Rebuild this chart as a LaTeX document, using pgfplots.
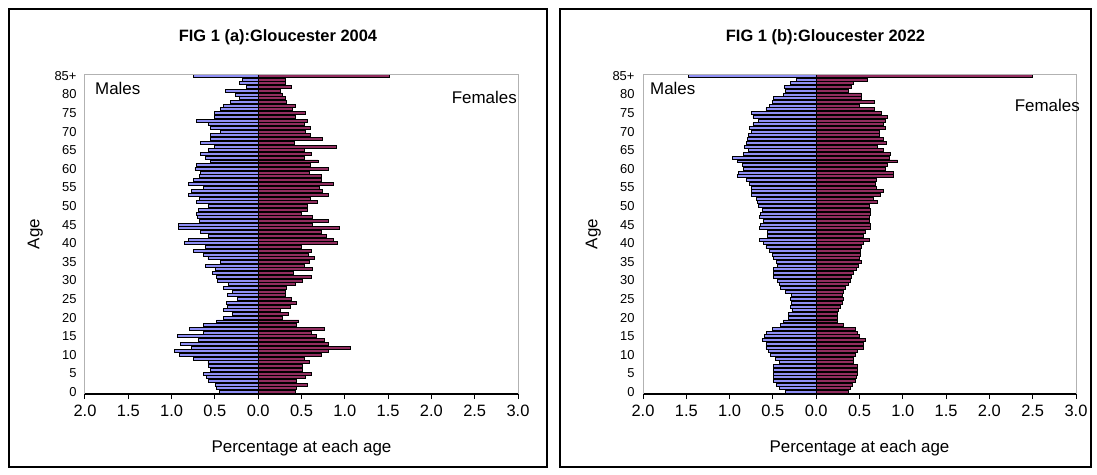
\documentclass[border=0pt]{standalone}
\usepackage{fontspec}
\setmainfont{Liberation Sans}
\usepackage{pgfplots}
\usepackage{pgfplotstable}
\pgfplotsset{compat=1.18}
\usetikzlibrary{calc}
\definecolor{pblue}{RGB}{143,143,245}
\definecolor{pplum}{RGB}{145,45,95}

\pgfplotstableread{
age m04 f04 m22 f22
0 -0.45 0.43 -0.35 0.37
1 -0.48 0.44 -0.42 0.39
2 -0.49 0.57 -0.46 0.42
3 -0.57 0.44 -0.49 0.45
4 -0.60 0.54 -0.49 0.47
5 -0.63 0.61 -0.49 0.48
6 -0.55 0.51 -0.49 0.48
7 -0.57 0.51 -0.49 0.48
8 -0.58 0.59 -0.42 0.43
9 -0.75 0.53 -0.47 0.43
10 -0.91 0.73 -0.53 0.45
11 -0.97 0.81 -0.55 0.48
12 -0.77 1.06 -0.58 0.54
13 -0.90 0.81 -0.57 0.55
14 -0.69 0.77 -0.62 0.57
15 -0.93 0.67 -0.60 0.50
16 -0.63 0.61 -0.57 0.48
17 -0.79 0.77 -0.51 0.45
18 -0.63 0.44 -0.41 0.31
19 -0.48 0.47 -0.38 0.24
20 -0.40 0.28 -0.32 0.24
21 -0.30 0.35 -0.32 0.25
22 -0.40 0.26 -0.28 0.26
23 -0.35 0.37 -0.30 0.28
24 -0.37 0.44 -0.29 0.30
25 -0.24 0.38 -0.30 0.31
26 -0.35 0.31 -0.29 0.30
27 -0.30 0.32 -0.35 0.31
28 -0.40 0.33 -0.41 0.34
29 -0.34 0.43 -0.42 0.37
30 -0.47 0.51 -0.45 0.40
31 -0.48 0.62 -0.49 0.41
32 -0.53 0.41 -0.49 0.43
33 -0.49 0.63 -0.49 0.47
34 -0.61 0.53 -0.45 0.49
35 -0.44 0.59 -0.46 0.52
36 -0.58 0.65 -0.49 0.50
37 -0.63 0.58 -0.51 0.51
38 -0.75 0.62 -0.54 0.51
39 -0.61 0.50 -0.58 0.52
40 -0.85 0.92 -0.61 0.55
41 -0.81 0.87 -0.65 0.61
42 -0.57 0.79 -0.56 0.54
43 -0.67 0.73 -0.56 0.57
44 -0.92 0.94 -0.65 0.63
45 -0.92 0.63 -0.64 0.63
46 -0.68 0.81 -0.61 0.61
47 -0.70 0.63 -0.65 0.62
48 -0.71 0.50 -0.64 0.63
49 -0.69 0.57 -0.62 0.63
50 -0.57 0.57 -0.67 0.62
51 -0.71 0.68 -0.68 0.71
52 -0.68 0.60 -0.69 0.66
53 -0.80 0.81 -0.75 0.74
54 -0.77 0.74 -0.75 0.78
55 -0.63 0.71 -0.75 0.69
56 -0.81 0.87 -0.77 0.68
57 -0.75 0.73 -0.80 0.69
58 -0.68 0.73 -0.91 0.89
59 -0.67 0.59 -0.90 0.89
60 -0.73 0.81 -0.84 0.80
61 -0.71 0.60 -0.85 0.82
62 -0.55 0.69 -0.91 0.94
63 -0.61 0.53 -0.97 0.85
64 -0.67 0.62 -0.84 0.86
65 -0.57 0.53 -0.78 0.78
66 -0.50 0.90 -0.83 0.71
67 -0.67 0.42 -0.81 0.81
68 -0.55 0.74 -0.79 0.78
69 -0.55 0.60 -0.78 0.73
70 -0.44 0.54 -0.75 0.73
71 -0.55 0.60 -0.77 0.80
72 -0.57 0.53 -0.73 0.78
73 -0.71 0.57 -0.67 0.80
74 -0.50 0.43 -0.73 0.82
75 -0.50 0.55 -0.75 0.75
76 -0.44 0.40 -0.58 0.67
77 -0.40 0.43 -0.54 0.50
78 -0.32 0.33 -0.51 0.67
79 -0.22 0.32 -0.49 0.52
80 -0.26 0.28 -0.38 0.52
81 -0.38 0.26 -0.35 0.37
82 -0.14 0.38 -0.37 0.41
83 -0.22 0.32 -0.30 0.43
84 -0.18 0.31 -0.23 0.59
85 -0.75 1.52 -1.47 2.50
}\pyrdata

\pgfplotsset{pyr/.style={
  width=433bp, height=320bp, scale only axis,
  anchor=south west,
  xmin=-2, xmax=3, ymin=-0.5, ymax=85.5,
  axis x line*=bottom, axis y line*=left,
  x axis line style={black, line width=1.6bp, -},
  y axis line style={draw=gray!60, line width=1bp, -},
  xtick={-2,-1.5,-1,-0.5,0,0.5,1,1.5,2,2.5,3},
  xticklabels={2.0,1.5,1.0,0.5,0.0,0.5,1.0,1.5,2.0,2.5,3.0},
  tick align=outside,
  major tick length=5bp,
  x tick style={black, line width=1bp},
  ytick={0,5,10,15,20,25,30,35,40,45,50,55,60,65,70,75,80,85},
  yticklabels={0,5,10,15,20,25,30,35,40,45,50,55,60,65,70,75,80,85+},
  y tick style={draw=none},
  xticklabel style={font=\fontsize{16.5}{18}\selectfont, yshift=-3bp},
  yticklabel style={font=\fontsize{13}{15}\selectfont},
  xlabel={Percentage at each age}, ylabel={Age},
  label style={font=\fontsize{17}{19}\selectfont},
  xlabel style={at={(axis description cs:0.5,-0.168)}, anchor=center},
  ylabel style={at={(axis description cs:-0.115,0.5)}, anchor=center},
  bar width=0.8,
  after end axis/.code={\draw[gray!60, line width=1bp] (rel axis cs:0,1) -- (rel axis cs:1,1) -- (rel axis cs:1,0);},
}}

\begin{document}
\begin{tikzpicture}[x=1bp,y=1bp]

\begin{axis}[pyr, name=L, at={(0bp,0bp)}]
\addplot[xbar, bar shift=0pt, fill=pblue, draw=black, line width=0.9bp] table[x=m04, y=age] {\pyrdata};
\addplot[xbar, bar shift=0pt, fill=pplum, draw=black, line width=0.9bp] table[x=f04, y=age] {\pyrdata};
\end{axis}

\begin{axis}[pyr, name=R, at={(558bp,0bp)}]
\addplot[xbar, bar shift=0pt, fill=pblue, draw=black, line width=0.9bp] table[x=m22, y=age] {\pyrdata};
\addplot[xbar, bar shift=0pt, fill=pplum, draw=black, line width=0.9bp] table[x=f22, y=age] {\pyrdata};
\end{axis}

\coordinate (O) at ($(L.south west)+(-85bp,-81bp)$);
\draw[line width=1.2bp] ($(O)+(9bp,8bp)$) rectangle ($(O)+(547bp,466bp)$);
\draw[line width=1.2bp] ($(O)+(560bp,8bp)$) rectangle ($(O)+(1091bp,466bp)$);

\node[font=\bfseries\fontsize{16.5}{18}\selectfont] at ($(O)+(278bp,438bp)$) {FIG 1 (a):Gloucester 2004};
\node[font=\bfseries\fontsize{16.5}{18}\selectfont] at ($(O)+(825.5bp,438bp)$) {FIG 1 (b):Gloucester 2022};
\node[anchor=west, inner sep=0pt, font=\fontsize{17}{19}\selectfont] at ($(O)+(95bp,387bp)$) {Males};
\node[anchor=east, inner sep=0pt, font=\fontsize{17}{19}\selectfont] at ($(O)+(517bp,378bp)$) {Females};
\node[anchor=west, inner sep=0pt, font=\fontsize{17}{19}\selectfont] at ($(O)+(650bp,387bp)$) {Males};
\node[anchor=east, inner sep=0pt, font=\fontsize{17}{19}\selectfont] at ($(O)+(1080bp,370bp)$) {Females};

\pgfresetboundingbox
\path[use as bounding box] (O) rectangle ($(O)+(1097bp,475bp)$);
\end{tikzpicture}
\end{document}
